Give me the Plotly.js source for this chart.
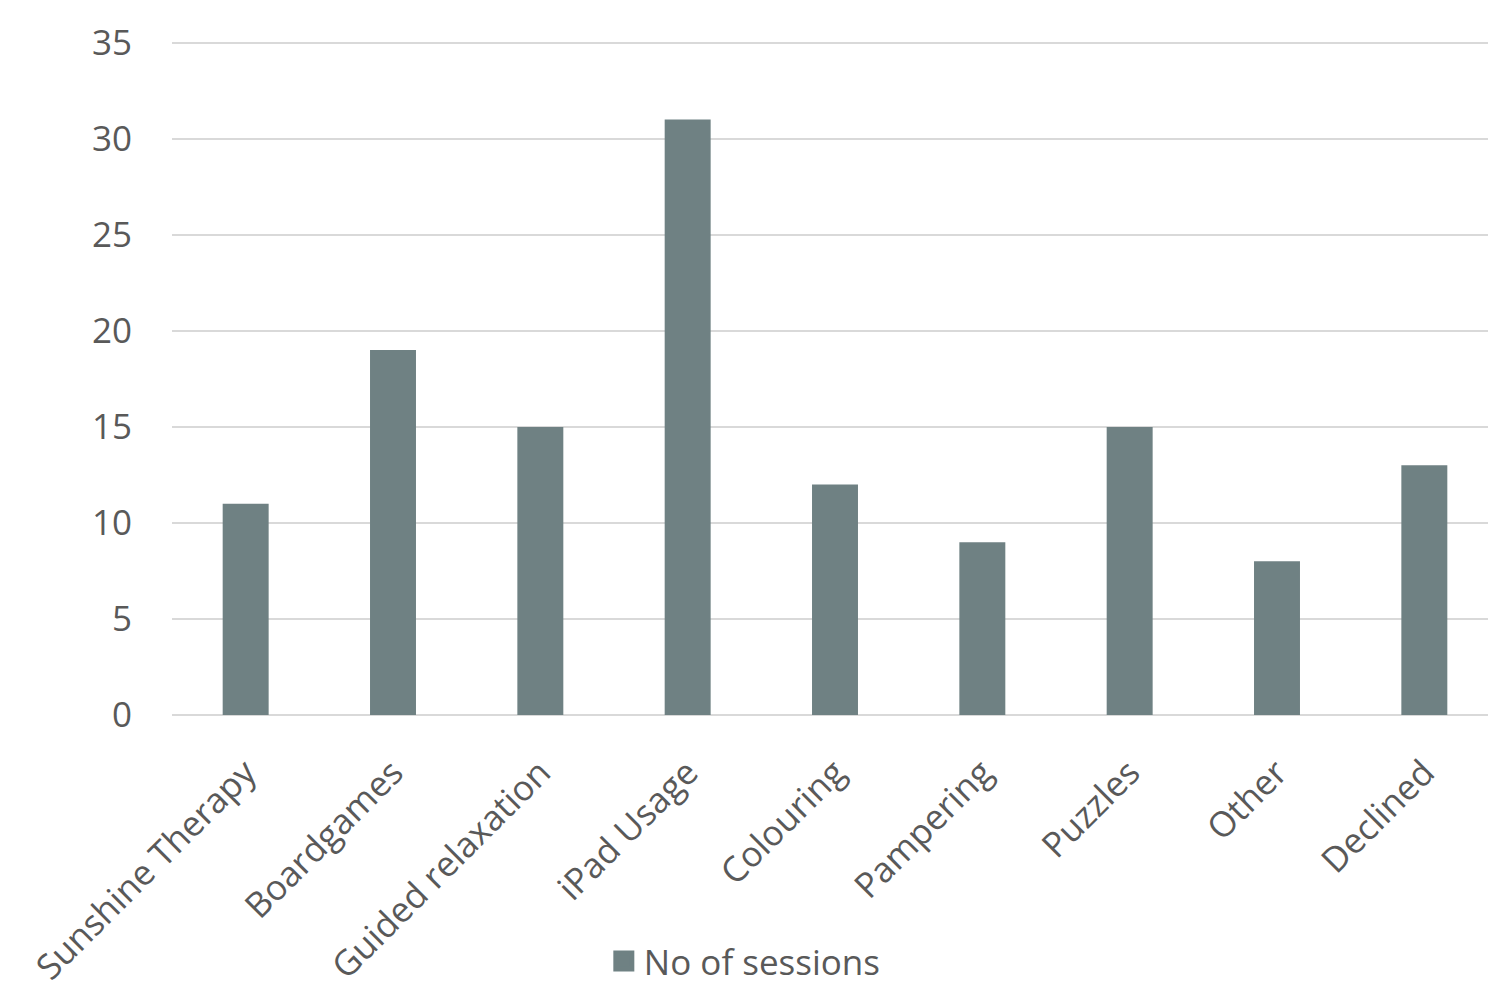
<!DOCTYPE html>
<html>
<head>
<meta charset="utf-8">
<script src="https://cdn.plot.ly/plotly-3.0.1.min.js"></script>
<style>
html,body{margin:0;padding:0;overflow:hidden;background:#fff;}
#chart{width:1510px;height:984px;}
</style>
</head>
<body>
<div id="chart"></div>
<script>
const categories = ["Sunshine Therapy","Boardgames","Guided relaxation","iPad Usage","Colouring","Pampering","Puzzles","Other","Declined"];
const sessions = [11,19,15,31,12,9,15,8,13];
const seriesName = "No of sessions";
const yTicks = [0,5,10,15,20,25,30,35];

const barColor = "#6f8183";
const textColor = "#595959";
const fontFamily = "'Open Sans', 'Noto Sans', sans-serif";

const traces = [
  {
    type: "bar",
    x: categories,
    y: sessions,
    marker: {color: barColor},
    showlegend: false,
    hoverinfo: "x+y"
  },
  {
    type: "scatter",
    mode: "markers",
    x: [null],
    y: [null],
    name: seriesName,
    marker: {symbol: "square", size: 22, color: barColor, line: {color: barColor, width: 5}},
    showlegend: true
  }
];

const layout = {
  width: 1510,
  height: 984,
  margin: {l: 172, r: 12, t: 37.2, b: 269},
  paper_bgcolor: "#fff",
  plot_bgcolor: "#fff",
  font: {family: fontFamily, size: 35, color: textColor},
  bargap: 0.688,
  showlegend: true,
  legend: {
    orientation: "h",
    xref: "paper", x: 0.432, xanchor: "center",
    yref: "container", y: 0.023, yanchor: "middle",
    font: {size: 35, color: textColor},
    itemsizing: "trace"
  },
  xaxis: {
    type: "category",
    tickangle: -45,
    ticks: "outside",
    ticklen: 22,
    tickcolor: "rgba(0,0,0,0)",
    showgrid: false,
    showline: false,
    zeroline: false,
    tickfont: {size: 35, color: textColor}
  },
  yaxis: {
    range: [0, 35.3],
    tickvals: yTicks,
    ticktext: yTicks.map(String),
    ticks: "outside",
    ticklen: 32,
    tickcolor: "rgba(0,0,0,0)",
    showgrid: true,
    gridcolor: "#d9d9d9",
    gridwidth: 1.5,
    zeroline: true,
    zerolinecolor: "#d9d9d9",
    zerolinewidth: 1.5,
    showline: false,
    tickfont: {size: 35, color: textColor}
  }
};

Plotly.newPlot("chart", traces, layout, {displayModeBar: false, staticPlot: true});
</script>
</body>
</html>
